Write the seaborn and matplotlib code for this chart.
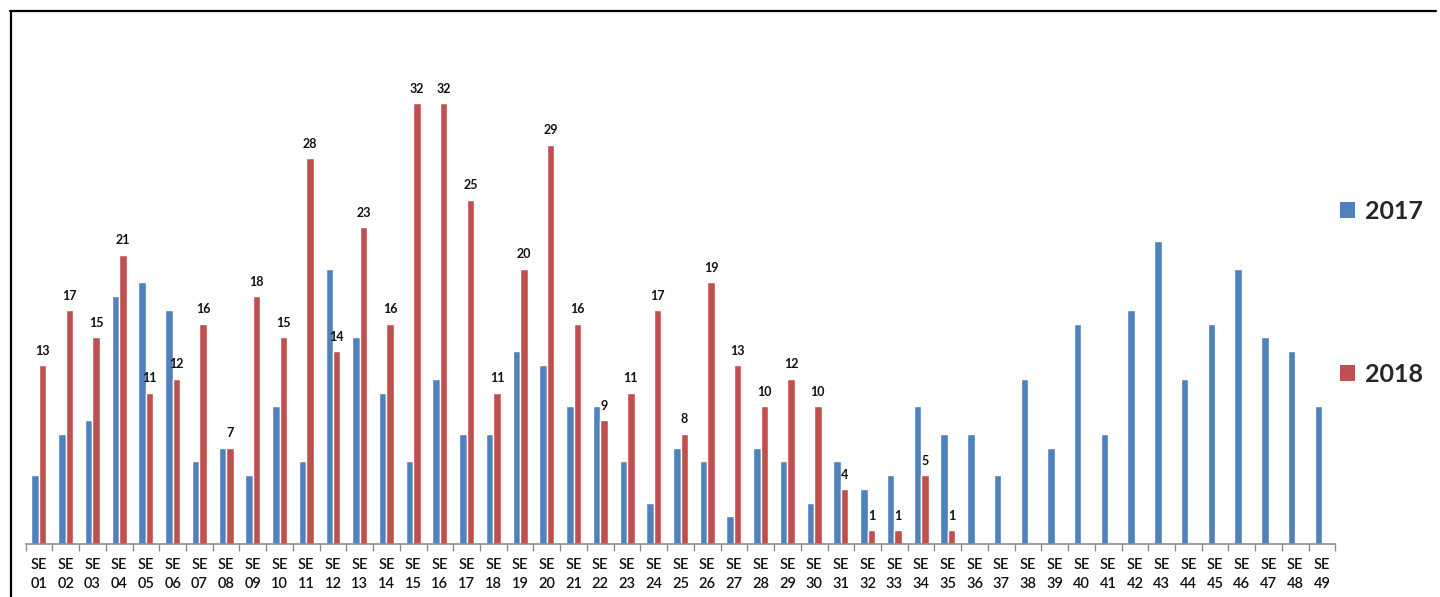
import matplotlib
matplotlib.use("Agg")
import matplotlib.pyplot as plt
from matplotlib.lines import Line2D
from matplotlib.patches import Patch
import pandas as pd
import seaborn as sns

# Epidemiological weeks and weekly case counts
weeks = [f"SE\n{i:02d}" for i in range(1, 50)]
years = ["2017", "2018"]
cases_2017 = [5, 8, 9, 18, 19, 17, 6, 7, 5, 10,
              6, 20, 15, 11, 6, 12, 8, 8, 14, 13,
              10, 10, 6, 3, 7, 6, 2, 7, 6, 3,
              6, 4, 5, 10, 8, 8, 5, 12, 7, 16,
              8, 17, 22, 12, 16, 20, 15, 14, 10]
cases_2018 = [13, 17, 15, 21, 11, 12, 16, 7, 18, 15,
              28, 14, 23, 16, 32, 32, 25, 11, 20, 29,
              16, 9, 11, 17, 8, 19, 13, 10, 12, 10,
              4, 1, 1, 5, 1] + [None] * 14

BLUE = "#4F81BD"
RED = "#C0504D"

rows = []
for yr, series in zip(years, [cases_2017, cases_2018]):
    for wk, v in zip(weeks, series):
        if v is not None:
            rows.append({"week": wk, "year": yr, "cases": v})
df = pd.DataFrame(rows)

sns.set_theme(style="white")
plt.rcParams["font.family"] = ["Lato", "DejaVu Sans"]

W, H = 1440, 597
fig = plt.figure(figsize=(W / 100, H / 100), dpi=100)
fig.patch.set_facecolor("white")

left_px, right_px = 25.6, 1335.4
base_px, top_px = 544, 62
ax = fig.add_axes([left_px / W, (H - base_px) / H,
                   (right_px - left_px) / W, (base_px - top_px) / H])

sns.barplot(data=df, x="week", y="cases", hue="year",
            order=weeks, hue_order=years, palette=[BLUE, RED],
            width=0.56, gap=0, saturation=1, errorbar=None,
            legend=False, ax=ax)

ax.set_xlim(-0.5, len(weeks) - 0.5)
ax.set_ylim(0, 35)
ax.set_xlabel("")
ax.set_ylabel("")
ax.set_yticks([])

for side in ["left", "right", "top"]:
    ax.spines[side].set_visible(False)
ax.spines["bottom"].set_color("#8C8C8C")
ax.spines["bottom"].set_linewidth(1.2)

# Category separators on the axis
ax.set_xticks([i - 0.5 for i in range(len(weeks) + 1)], minor=True)
ax.tick_params(axis="x", which="minor", length=5, width=1.0,
               color="#8C8C8C", direction="out", bottom=True)
ax.tick_params(axis="x", which="major", length=0, pad=10,
               labelsize=10.5, labelcolor="#111111")
for lbl in ax.get_xticklabels():
    lbl.set_linespacing(1.45)
    lbl.set_fontweight("semibold")

# Value labels above the 2018 bars
labels_2018 = [str(v) for v in cases_2018 if v is not None]
ax.bar_label(ax.containers[1], labels=labels_2018, padding=6,
             fontsize=9, fontweight="bold", color="#111111")

# Legend on the right, entries spread far apart
handles = [Patch(facecolor=BLUE, edgecolor="none"),
           Patch(facecolor=RED, edgecolor="none")]
fig.legend(handles, years, loc="upper left",
           bbox_to_anchor=(1330 / W, 1 - 190 / H),
           frameon=False, prop={"weight": "bold", "size": 18},
           handlelength=0.6, handleheight=0.6, handletextpad=0.4,
           labelspacing=5.6, borderaxespad=0)

# Chart border (top and left edges)
fig.add_artist(Line2D([10 / W, 1436 / W], [1 - 11 / H, 1 - 11 / H],
                      transform=fig.transFigure, color="black", lw=1.6))
fig.add_artist(Line2D([10.5 / W, 10.5 / W], [0, 1 - 11 / H],
                      transform=fig.transFigure, color="black", lw=1.6))

fig.savefig("out.png", dpi=100, facecolor="white")
